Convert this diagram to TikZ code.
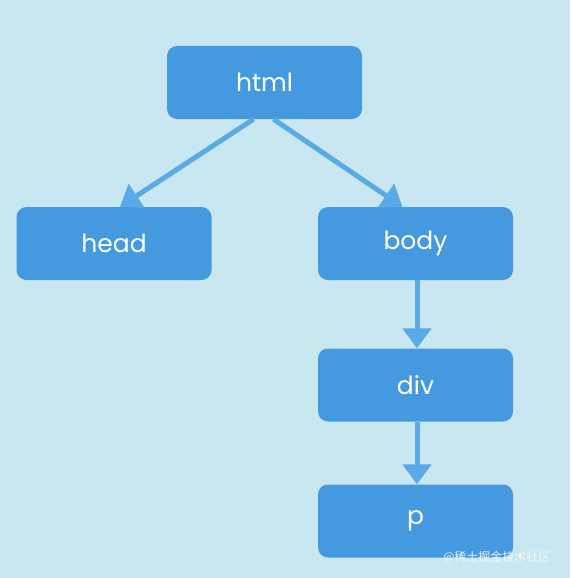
\documentclass[tikz,border=0pt]{standalone}
\usepackage{fontspec}
\setmainfont{Poppins}
\newfontfamily\cjkfont{Noto Sans CJK SC}
\usetikzlibrary{arrows.meta}

\definecolor{bgblue}{HTML}{C8E7F1}
\definecolor{boxblue}{HTML}{4599DE}
\definecolor{linkblue}{HTML}{5AAAE6}

\tikzset{
  tag/.style={fill=boxblue,rounded corners=10pt,minimum width=195pt,minimum height=73pt,
    inner sep=0pt,text=white,font=\fontsize{25}{30}\selectfont},
  link/.style={draw=linkblue,line width=5pt,-{Triangle[width=28pt,length=20pt]}},
}

\begin{document}
\begin{tikzpicture}[x=1pt,y=-1pt]
\fill[bgblue] (0,0) rectangle (570,578);
\useasboundingbox (0,0) rectangle (570,578);
\node[tag] (html) at (264.5,82.5) {html};
\node[tag] (head) at (114,243.5) {head};
\node[tag] (body) at (415.5,243.5) {body};
\node[tag] (div) at (415.5,385) {div};
\node[tag] (p) at (415.5,521) {p};
\draw[link] ([xshift=-11pt]html.south) -- ([xshift=6pt]head.north);
\draw[link] ([xshift=9pt]html.south) -- ([xshift=-13pt]body.north);
\draw[link] ([xshift=1.5pt]body.south) -- ([xshift=1.5pt]div.north);
\draw[link] ([xshift=1.5pt]div.south) -- ([xshift=1.5pt]p.north);
\node[anchor=east,text=white!92!gray,font=\cjkfont\fontsize{12}{14}\selectfont] (mark) at (554,557) {@稀土掘金技术社区};
\end{tikzpicture}
\end{document}
